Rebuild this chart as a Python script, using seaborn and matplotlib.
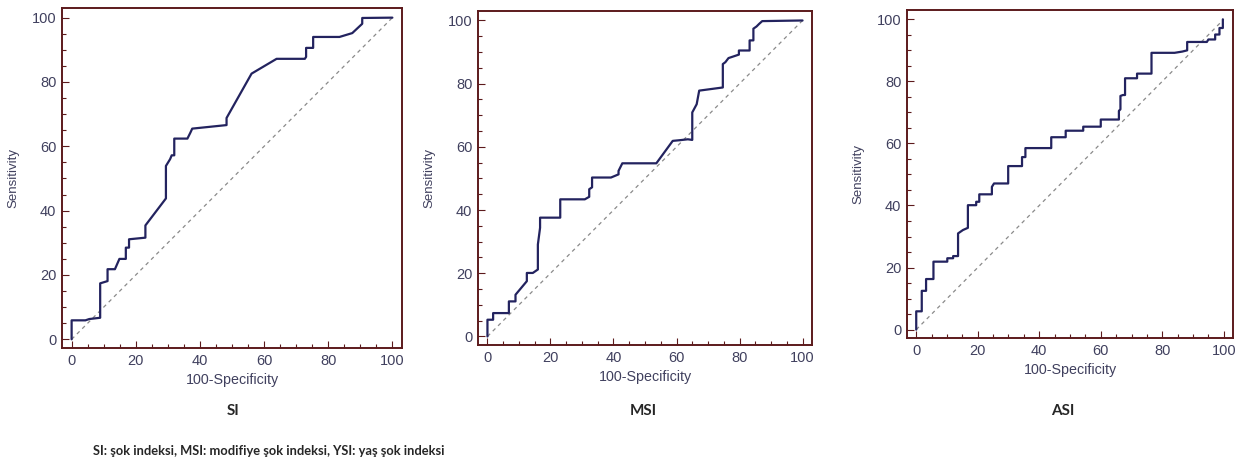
import numpy as np
import matplotlib.pyplot as plt
import seaborn as sns
from matplotlib.ticker import MultipleLocator

# ROC curve vertices (100-Specificity, Sensitivity)
si_x = [0, 0, 4.3, 5.5, 8.9, 8.9, 11.2, 11.2, 13.5, 14.9, 16.9, 16.9, 17.9, 17.9, 23.0, 23.0,
        29.4, 29.4, 30.7, 31.2, 32.0, 32.0, 36.1, 37.0, 37.6, 48.3, 48.3, 56.1, 63.9, 72.7,
        73.1, 73.1, 75.3, 75.3, 83.5, 87.5, 90.6, 90.6, 100]
si_y = [0, 5.9, 5.9, 6.3, 6.7, 17.4, 18.1, 21.8, 21.8, 25.0, 25.0, 28.5, 28.5, 31.1, 31.6, 35.4,
        43.8, 53.9, 56.0, 57.2, 57.2, 62.4, 62.4, 64.2, 65.5, 66.6, 68.8, 82.6, 87.2, 87.2,
        87.8, 90.6, 90.6, 94.0, 94.0, 95.2, 98.1, 99.9, 100]

msi_x = [0, 0, 1.8, 1.8, 6.8, 6.8, 8.9, 8.9, 12.5, 12.5, 14.4, 16.0, 16.0, 16.7, 16.7, 23.1,
         23.1, 30.9, 32.3, 32.3, 33.2, 33.2, 39.2, 41.6, 41.6, 42.8, 53.6, 58.8, 60.9, 63.6,
         65.0, 65.0, 66.4, 67.2, 74.7, 74.7, 75.5, 76.5, 79.8, 79.8, 83.2, 83.2, 84.4, 84.4,
         85.4, 86.2, 87.2, 100]
msi_y = [0, 5.3, 5.3, 7.4, 7.4, 11.1, 11.1, 13.2, 17.5, 20.1, 20.1, 21.2, 29.1, 34.4, 37.6, 37.6,
         43.4, 43.4, 44.2, 46.6, 47.2, 50.3, 50.3, 51.3, 52.4, 54.8, 54.8, 61.9, 62.1, 62.4,
         62.2, 70.9, 73.5, 77.8, 78.8, 86.2, 86.8, 88.1, 89.2, 90.5, 90.5, 93.7, 93.7, 97.4,
         98.1, 98.9, 99.8, 100]

asi_x = [0, 0, 1.8, 1.8, 3.2, 3.2, 5.6, 5.6, 10.1, 10.1, 12.0, 12.0, 13.6, 13.6, 15.2, 16.8,
         16.8, 19.5, 19.5, 20.5, 20.5, 24.6, 24.6, 25.3, 29.9, 29.9, 34.4, 34.4, 35.5, 35.5,
         43.9, 43.9, 48.6, 48.6, 54.3, 54.3, 60.0, 60.0, 65.9, 65.9, 66.4, 66.4, 67.2, 67.9,
         67.9, 71.8, 71.8, 76.5, 76.5, 84.0, 86.5, 88.1, 88.1, 94.5, 95.0, 97.2, 97.2, 98.6,
         98.6, 99.7, 99.7]
asi_y = [0, 5.9, 5.9, 12.5, 12.5, 16.3, 16.3, 21.9, 21.9, 23.0, 23.0, 23.7, 23.7, 31.0, 32.1, 32.8,
         40.1, 40.1, 41.2, 41.2, 43.6, 43.6, 46.0, 47.1, 47.1, 52.7, 52.7, 55.6, 55.6, 58.5,
         58.5, 62.0, 62.0, 64.1, 64.1, 65.4, 65.4, 67.7, 67.7, 70.5, 71.0, 75.3, 75.6, 75.6,
         81.0, 81.0, 82.5, 82.5, 89.2, 89.2, 89.6, 90.0, 92.7, 92.7, 93.5, 93.5, 95.1, 95.1,
         97.2, 97.2, 100]

panel_names = ["SI", "MSI", "ASI"]
footnote = "SI: şok indeksi, MSI: modifiye şok indeksi, YSI: yaş şok indeksi"

curves = [(si_x, si_y), (msi_x, msi_y), (asi_x, asi_y)]
# axes boxes in pixels: left, right, top, bottom
boxes = [(62, 402, 8, 348), (478, 812, 11, 345), (907, 1233, 10, 338)]
name_x = [233, 643, 1063]

W, H = 1240, 461
sns.set_style("white")
plt.rcParams['font.family'] = ['Liberation Sans', 'DejaVu Sans']

navy = "#23235f"
frame = "#5c1a1c"
label_c = "#40405e"

fig = plt.figure(figsize=(W / 100, H / 100), dpi=100)

for (cx, cy), (l, r, t, b), name, nx in zip(curves, boxes, panel_names, name_x):
    ax = fig.add_axes([l / W, (H - b) / H, (r - l) / W, (b - t) / H])
    ax.plot([0, 100], [0, 100], ls=(0, (3, 3)), color="#8a8a8a", lw=0.9)
    sns.lineplot(x=cx, y=cy, sort=False, estimator=None, color=navy, lw=1.6, ax=ax)
    ax.set_xlim(-3, 103)
    ax.set_ylim(-2.7, 103)
    ax.xaxis.set_major_locator(MultipleLocator(20))
    ax.yaxis.set_major_locator(MultipleLocator(20))
    ax.xaxis.set_minor_locator(MultipleLocator(5))
    ax.yaxis.set_minor_locator(MultipleLocator(5))
    ax.tick_params(which="both", direction="in", left=True, bottom=True,
                   colors=frame, labelcolor=label_c, labelsize=10.5, width=0.8)
    ax.tick_params(which="major", length=5, pad=4)
    ax.tick_params(which="minor", length=3)
    for s in ax.spines.values():
        s.set_color(frame)
        s.set_linewidth(1.4)
    ax.set_xlabel("100-Specificity", color=label_c, fontsize=10.3, labelpad=4)
    ax.set_ylabel("Sensitivity", color=label_c, fontsize=9.5, labelpad=9)
    fig.text(nx / W, 1 - 411 / H, name, ha="center", va="center",
             fontsize=11, fontweight="bold", family=["Lato", "DejaVu Sans"])

fig.text(93 / W, 1 - 451 / H, footnote, ha="left", va="center",
         fontsize=9.3, fontweight="bold", family=["Lato", "DejaVu Sans"])

fig.savefig("out.png", dpi=100)
